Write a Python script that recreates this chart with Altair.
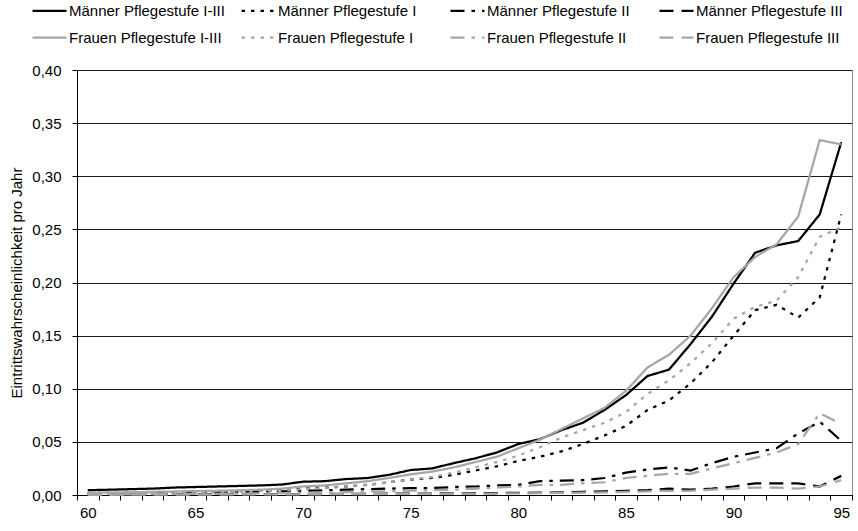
import altair as alt
import pandas as pd

# Alter (Jahre)
ages = list(range(60, 96))

series_names = [
    "Männer Pflegestufe I-III",
    "Männer Pflegestufe I",
    "Männer Pflegestufe II",
    "Männer Pflegestufe III",
    "Frauen Pflegestufe I-III",
    "Frauen Pflegestufe I",
    "Frauen Pflegestufe II",
    "Frauen Pflegestufe III",
]

maenner_1_3 = [0.0045, 0.005, 0.0055, 0.006, 0.007, 0.0075, 0.008, 0.0085, 0.009, 0.0098,
               0.0125, 0.013, 0.015, 0.016, 0.019, 0.0235, 0.025, 0.030, 0.0345, 0.040,
               0.048, 0.0525, 0.061, 0.068, 0.080, 0.094, 0.112, 0.118, 0.142, 0.168,
               0.199, 0.228, 0.235, 0.239, 0.264, 0.332]
maenner_1 = [0.002, 0.002, 0.0022, 0.0025, 0.0027, 0.003, 0.0033, 0.0035, 0.004, 0.0045,
             0.006, 0.007, 0.008, 0.0095, 0.012, 0.0145, 0.016, 0.019, 0.023, 0.027,
             0.032, 0.036, 0.041, 0.048, 0.056, 0.065, 0.080, 0.089, 0.105, 0.125,
             0.150, 0.174, 0.179, 0.167, 0.186, 0.264]
maenner_2 = [0.001, 0.0012, 0.0014, 0.0016, 0.0018, 0.002, 0.0023, 0.0026, 0.003, 0.0033,
             0.004, 0.0045, 0.005, 0.0055, 0.006, 0.0065, 0.0065, 0.0075, 0.008, 0.009,
             0.0095, 0.013, 0.0135, 0.014, 0.016, 0.021, 0.024, 0.026, 0.023, 0.030,
             0.036, 0.040, 0.044, 0.058, 0.069, 0.051]
maenner_3 = [0.0003, 0.0003, 0.0004, 0.0004, 0.0005, 0.0005, 0.0006, 0.0006, 0.0007, 0.0008,
             0.0009, 0.001, 0.001, 0.0011, 0.0012, 0.0013, 0.0014, 0.0015, 0.0017, 0.0018,
             0.002, 0.0022, 0.0025, 0.003, 0.0035, 0.004, 0.0045, 0.006, 0.005, 0.006,
             0.008, 0.011, 0.011, 0.011, 0.008, 0.018]
frauen_1_3 = [0.002, 0.0022, 0.0025, 0.003, 0.0033, 0.0037, 0.004, 0.0045, 0.005, 0.006,
              0.008, 0.009, 0.011, 0.013, 0.016, 0.0195, 0.022, 0.026, 0.031, 0.036,
              0.044, 0.052, 0.062, 0.072, 0.082, 0.098, 0.120, 0.132, 0.150, 0.176,
              0.205, 0.224, 0.236, 0.262, 0.334, 0.330]
frauen_1 = [0.001, 0.0012, 0.0015, 0.0017, 0.002, 0.0023, 0.0026, 0.003, 0.0035, 0.004,
            0.0055, 0.0065, 0.008, 0.0095, 0.012, 0.0145, 0.017, 0.021, 0.026, 0.031,
            0.037, 0.045, 0.054, 0.061, 0.068, 0.078, 0.095, 0.108, 0.124, 0.143,
            0.166, 0.177, 0.183, 0.205, 0.243, 0.252]
frauen_2 = [0.0005, 0.0006, 0.0007, 0.0008, 0.0009, 0.001, 0.0011, 0.0013, 0.0015, 0.0017,
            0.002, 0.0023, 0.0026, 0.003, 0.0035, 0.004, 0.0045, 0.005, 0.006, 0.007,
            0.008, 0.0095, 0.0095, 0.011, 0.012, 0.016, 0.018, 0.020, 0.020, 0.025,
            0.030, 0.035, 0.040, 0.048, 0.077, 0.067]
frauen_3 = [0.0002, 0.0002, 0.0003, 0.0003, 0.0003, 0.0004, 0.0004, 0.0005, 0.0005, 0.0006,
            0.0007, 0.0007, 0.0008, 0.0009, 0.001, 0.001, 0.0011, 0.0012, 0.0013, 0.0014,
            0.0015, 0.0017, 0.002, 0.0022, 0.0025, 0.003, 0.0035, 0.004, 0.004, 0.005,
            0.006, 0.007, 0.007, 0.006, 0.008, 0.014]

series_values = [maenner_1_3, maenner_1, maenner_2, maenner_3,
                 frauen_1_3, frauen_1, frauen_2, frauen_3]

y_ticks = [0.0, 0.05, 0.10, 0.15, 0.20, 0.25, 0.30, 0.35, 0.40]
x_labels = [60, 65, 70, 75, 80, 85, 90, 95]

rows = []
for name, vals in zip(series_names, series_values):
    for a, v in zip(ages, vals):
        rows.append({"Alter": a, "Reihe": name, "Wert": v})
df = pd.DataFrame(rows)

FONT = "Liberation Sans"
FS = 15
BLACK = "#000000"
GREY = "#a6a6a6"

x_scale = alt.Scale(domain=[ages[0] - 0.5, ages[-1] + 0.5], nice=False, zero=False)
y_scale = alt.Scale(domain=[0, 0.4], nice=False, zero=True)

color_scale = alt.Scale(domain=series_names, range=[BLACK] * 4 + [GREY] * 4)
dash_scale = alt.Scale(
    domain=series_names,
    range=[[1, 0], [3.5, 6], [14, 7, 3.5, 7], [14, 8]] * 2,
)

legend = alt.Legend(
    title=None,
    orient="none",
    direction="horizontal",
    legendX=-46,
    legendY=-78,
    columns=4,
    gridAlign="all",
    symbolType="stroke",
    symbolSize=1156,
    symbolStrokeWidth=2.25,
    labelFont=FONT,
    labelFontSize=FS,
    labelColor=BLACK,
    labelLimit=400,
    columnPadding=12,
    rowPadding=-9,
    symbolOffset=0,
    labelOffset=1,
)

lines = alt.Chart(df).mark_line(strokeWidth=2.25, strokeCap="butt").encode(
    x=alt.X(
        "Alter:Q",
        scale=x_scale,
        axis=alt.Axis(
            values=x_labels,
            ticks=False,
            grid=False,
            domain=True,
            domainColor=BLACK,
            title=None,
            labelFont=FONT,
            labelFontSize=FS,
            labelColor=BLACK,
            labelPadding=10,
            orient="bottom",
        ),
    ),
    y=alt.Y(
        "Wert:Q",
        scale=y_scale,
        axis=alt.Axis(
            values=y_ticks,
            labelExpr="replace(format(datum.value, '.2f'), '.', ',')",
            grid=True,
            gridColor="#1a1a1a",
            gridWidth=1,
            domainColor=BLACK,
            tickColor=BLACK,
            tickSize=5,
            labelFont=FONT,
            labelFontSize=FS,
            labelColor=BLACK,
            labelPadding=11,
            title="Eintrittswahrscheinlichkeit pro Jahr",
            titleFont=FONT,
            titleFontSize=FS,
            titleFontWeight="normal",
            titleColor=BLACK,
            titlePadding=7,
        ),
    ),
    color=alt.Color("Reihe:N", scale=color_scale, sort=series_names, legend=legend),
    strokeDash=alt.StrokeDash("Reihe:N", scale=dash_scale, sort=series_names, legend=legend),
    order=alt.Order("Alter:Q"),
)

# category separators on the x axis
separators = alt.Chart(df).mark_line(opacity=0).encode(
    x=alt.X(
        "Alter:Q",
        scale=x_scale,
        axis=alt.Axis(
            values=[a - 0.5 for a in ages] + [ages[-1] + 0.5],
            labels=False,
            ticks=True,
            tickSize=5,
            tickColor=BLACK,
            domain=False,
            grid=False,
            title=None,
            orient="bottom",
        ),
    ),
    y=alt.Y("Wert:Q", scale=y_scale, axis=None),
    detail="Reihe:N",
)

chart = (
    alt.layer(lines, separators)
    .resolve_axis(x="independent", y="independent")
    .properties(
        width=775,
        height=425,
        autosize=alt.AutoSizeParams(type="none"),
        padding={"left": 77, "top": 70, "right": 6, "bottom": 36},
        background="white",
    )
    .configure_view(stroke="#8c8c8c", strokeWidth=1)
)

chart.save("out.html", embed_options={"renderer": "svg", "actions": False})
